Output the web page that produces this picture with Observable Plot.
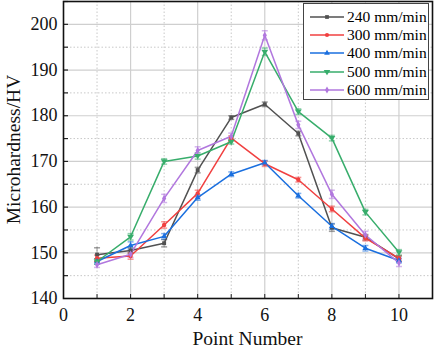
<!DOCTYPE html>
<html>
<head>
<meta charset="utf-8">
<script src="https://cdn.jsdelivr.net/npm/d3@7"></script>
<script src="https://cdn.jsdelivr.net/npm/@observablehq/plot@0.6"></script>
<style>
  html, body { margin: 0; padding: 0; background: #fff; }
  #wrap { position: relative; width: 435px; height: 354px; font-family: "Liberation Serif", "DejaVu Serif", serif; }
  #legend { position: absolute; left: 303px; top: 3px; width: 126px; height: 97px; border: 1px solid #444; background: #fff; box-sizing: border-box; padding-top: 4px; font-family: "Liberation Serif", "DejaVu Serif", serif; }
  .row { display: flex; align-items: center; height: 18.2px; font-size: 15.5px; color: #000; white-space: nowrap; font-family: "Liberation Serif", serif; }
  .row svg { margin-left: 6px; margin-right: 3px; flex: none; }
</style>
</head>
<body>
<div id="wrap"></div>
<script>
const points = [1, 2, 3, 4, 5, 6, 7, 8, 9, 10];
const seriesNames = ["240 mm/min", "300 mm/min", "400 mm/min", "500 mm/min", "600 mm/min"];
const colors = ["#515151", "#F14040", "#1A6FDF", "#37AD6B", "#B177DE"];
const v240 = [149.6, 150.5, 152.1, 168.1, 179.6, 182.5, 176.1, 155.5, 153.4, 148.7];
const v300 = [148.8, 149.3, 156.1, 163.0, 175.1, 169.5, 166.0, 159.6, 153.2, 148.8];
const v400 = [148.1, 151.6, 153.6, 162.1, 167.2, 169.7, 162.5, 155.8, 151.0, 148.3];
const v500 = [148.1, 153.5, 170.0, 171.2, 174.3, 194.0, 180.9, 175.1, 158.9, 150.1];
const v600 = [147.4, 149.7, 161.9, 172.4, 175.5, 197.6, 178.0, 162.8, 153.9, 147.8];
const e240 = [1.5, 0.6, 0.8, 0.6, 0.4, 0.5, 0.5, 0.8, 0.6, 0.6];
const e300 = [0.7, 0.7, 0.7, 0.7, 0.5, 0.6, 0.5, 0.6, 0.6, 0.6];
const e400 = [0.6, 0.8, 0.6, 0.6, 0.5, 0.5, 0.5, 0.6, 0.6, 0.5];
const e500 = [0.6, 0.7, 0.6, 0.7, 0.5, 0.8, 0.6, 0.6, 0.6, 0.6];
const e600 = [0.6, 0.7, 0.9, 0.8, 0.7, 1.0, 0.8, 0.9, 0.8, 0.8];
const xTickLabels = [0, 2, 4, 6, 8, 10];
const yTickLabels = [140, 150, 160, 170, 180, 190, 200];

const values = [v240, v300, v400, v500, v600];
const errors = [e240, e300, e400, e500, e600];

const triDown = { draw(ctx, size) { const r = Math.sqrt(size / 1.3); ctx.moveTo(-r, -r * 0.6); ctx.lineTo(r, -r * 0.6); ctx.lineTo(0, r * 1.0); ctx.closePath(); } };
const capSym = { draw(ctx, size) { const w = 3; ctx.moveTo(-w, 0); ctx.lineTo(w, 0); } };
const symbols = ["square", "circle", "triangle", triDown, "diamond"];

const data = [];
seriesNames.forEach((s, i) => points.forEach((p, j) => data.push({series: s, idx: i, x: p, y: values[i][j], e: errors[i][j]})));

const W = 435, H = 354, mL = 63, mR = 3, mT = 1, mB = 56;
const plotH = H - mT - mB;
const plotW = W - mL - mR;

const marks = [
  Plot.gridY(d3.range(145, 206, 10), {stroke: "#c8c8c8", strokeOpacity: 1, strokeDasharray: "1.5,2"}),
  Plot.gridX(d3.range(1, 11, 2), {stroke: "#c8c8c8", strokeOpacity: 1, strokeDasharray: "1.5,2"}),
  Plot.gridY(yTickLabels.slice(1), {stroke: "#cfcfcf", strokeOpacity: 1, strokeWidth: 1.2}),
  Plot.gridX(xTickLabels.slice(1), {stroke: "#cfcfcf", strokeOpacity: 1, strokeWidth: 1.2}),
  Plot.axisX(xTickLabels, {tickSize: 0, tickPadding: 10, fontSize: 18, label: null}),
  Plot.axisY(yTickLabels, {tickSize: 0, tickPadding: 6, fontSize: 18, label: null}),
  Plot.ruleX(d3.range(0, 11), {x: d => d, insetTop: plotH - 4, stroke: "#222"}),
  Plot.ruleY(d3.range(145, 206, 5), {y: d => d, insetRight: plotW - 5, stroke: "#222", strokeWidth: 1.2}),
  ...values.map((v, i) => Plot.ruleX(data.filter(d => d.idx === i), {x: "x", y1: d => d.y - d.e, y2: d => d.y + d.e, stroke: colors[i], strokeOpacity: 0.55, strokeWidth: 1})),
  ...values.map((v, i) => Plot.dot(data.filter(d => d.idx === i), {x: "x", y: d => d.y + d.e, symbol: capSym, stroke: colors[i], strokeOpacity: 0.55, r: 2})),
  ...values.map((v, i) => Plot.dot(data.filter(d => d.idx === i), {x: "x", y: d => d.y - d.e, symbol: capSym, stroke: colors[i], strokeOpacity: 0.55, r: 2})),
  ...values.map((v, i) => Plot.line(data.filter(d => d.idx === i), {x: "x", y: "y", stroke: colors[i], strokeWidth: 1.5})),
  ...values.map((v, i) => Plot.dot(data.filter(d => d.idx === i), {x: "x", y: "y", symbol: symbols[i], fill: colors[i], stroke: "none", r: 2.2})),
  Plot.frame({stroke: "#111", strokeWidth: 1.6})
];

const chart = Plot.plot({
  width: W, height: H,
  marginLeft: mL, marginRight: mR, marginTop: mT, marginBottom: mB,
  style: {fontFamily: "'Liberation Serif', 'Times New Roman', serif", fontSize: "18px", color: "#111", background: "#fff"},
  x: {domain: [0, 11], label: null},
  y: {domain: [140, 205], label: null},
  marks
});

const wrap = document.getElementById("wrap");
wrap.appendChild(chart);

// axis titles
const svg = d3.select(chart);
svg.append("text").attr("x", (mL + W - mR) / 2).attr("y", 345).attr("text-anchor", "middle")
  .attr("font-size", 19.5).attr("fill", "#111").text("Point Number");
svg.append("text").attr("transform", `translate(20,${mT + plotH / 2}) rotate(-90)`).attr("text-anchor", "middle")
  .attr("font-size", 19.5).attr("fill", "#111").text("Microhardness/HV");

// legend
const legend = document.createElement("div");
legend.id = "legend";
seriesNames.forEach((s, i) => {
  const row = document.createElement("div");
  row.className = "row";
  const sym = d3.create("svg").attr("width", 34).attr("height", 12);
  sym.append("line").attr("x1", 0).attr("x2", 34).attr("y1", 6).attr("y2", 6).attr("stroke", colors[i]).attr("stroke-width", 1.5);
  const symObj = typeof symbols[i] === "string" ? ({square: d3.symbolSquare, circle: d3.symbolCircle, triangle: d3.symbolTriangle, diamond: d3.symbolDiamond})[symbols[i]] : symbols[i];
  sym.append("path").attr("transform", "translate(17,6)").attr("d", d3.symbol(symObj, 14)()).attr("fill", colors[i]);
  row.appendChild(sym.node());
  const t = document.createElement("span");
  t.textContent = s;
  row.appendChild(t);
  legend.appendChild(row);
});
wrap.appendChild(legend);
</script>
</body>
</html>
